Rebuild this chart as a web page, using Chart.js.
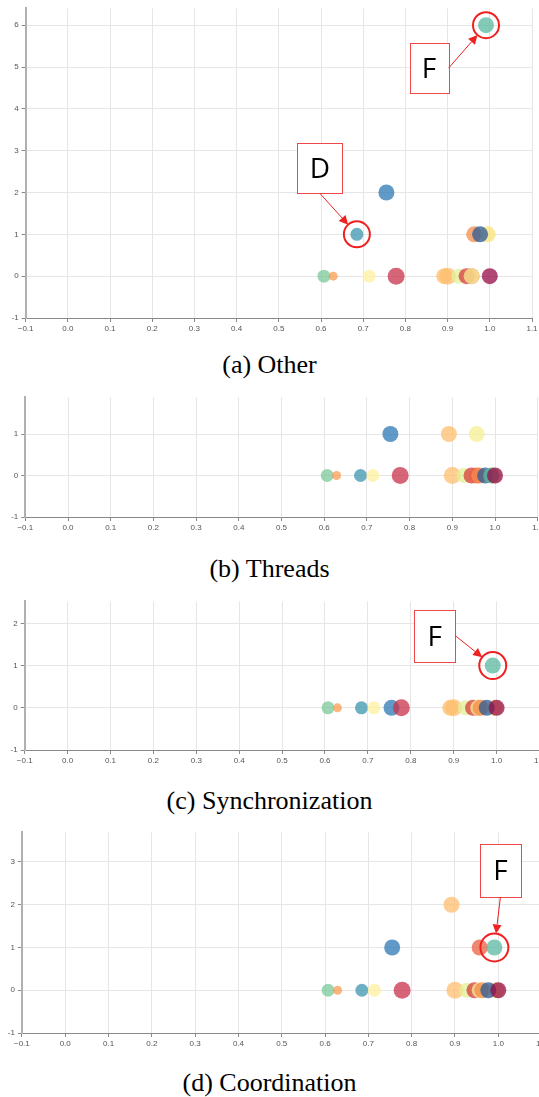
<!DOCTYPE html>
<html>
<head>
<meta charset="utf-8">
<script src="https://cdn.jsdelivr.net/npm/chart.js@4.4.0/dist/chart.umd.min.js"></script>
<style>
  html, body { margin: 0; padding: 0; background: #fff; overflow: hidden; }
  body { width: 539px; height: 1097px; position: relative; }
  .panel { position: absolute; left: 0; }
  .caption {
    position: absolute; left: 0; width: 539px; text-align: center;
    font-family: "Liberation Serif", "Times New Roman", serif;
    font-size: 26px; line-height: 26px; color: #000;
  }
</style>
</head>
<body>
<script>
// x tick labels shared by every panel
const xTicks = [-0.1, 0.0, 0.1, 0.2, 0.3, 0.4, 0.5, 0.6, 0.7, 0.8, 0.9, 1.0, 1.1];

// one entry per bubble (same x in every panel)
const itemX      = [0.607, 0.629, 0.685, 0.714, 0.755, 0.778, 0.892, 0.900, 0.927, 0.945, 0.957, 0.957, 0.963, 0.995, 0.977, 0.991, 1.000];
const itemWeight = [42,    20,    42,    42,    64,    72,    64,    72,    56,    64,    64,    64,    64,    64,    64,    64,    64];

// counts per panel
const otherCounts   = [0, 0, 1, 0, 2, 0, 0, 0, 0, 0, 0, 0, 1, 1, 1, 6, 0];
const threadsCounts = [0, 0, 0, 0, 1, 0, 1, 0, 0, 0, 0, 1, 0, 0, 0, 0, 0];
const syncCounts    = [0, 0, 0, 0, 0, 0, 0, 0, 0, 0, 0, 0, 0, 0, 0, 1, 0];
const coordCounts   = [0, 0, 0, 0, 1, 0, 2, 0, 0, 0, 1, 0, 0, 0, 0, 1, 0];

const yTicksOther   = [-1, 0, 1, 2, 3, 4, 5, 6];
const yTicksThreads = [-1, 0, 1];
const yTicksSync    = [-1, 0, 1, 2];
const yTicksCoord   = [-1, 0, 1, 2, 3];
const yMaxes = [6.4, 1.88, 2.52, 3.69];

const panelTitles = ['(a) Other', '(b) Threads', '(c) Synchronization', '(d) Coordination'];

const itemColors = [
  'rgba(116,196,146,0.7)', 'rgba(250,150,70,0.7)', 'rgba(60,150,175,0.75)', 'rgba(255,240,160,0.75)',
  'rgba(45,120,180,0.75)', 'rgba(200,50,75,0.75)', 'rgba(253,190,110,0.75)', 'rgba(253,190,110,0.75)',
  'rgba(225,240,150,0.75)', 'rgba(215,60,60,0.75)', 'rgba(235,95,65,0.75)', 'rgba(245,240,150,0.75)',
  'rgba(245,140,75,0.75)', 'rgba(250,225,120,0.75)', 'rgba(40,90,150,0.75)', 'rgba(90,185,160,0.75)',
  'rgba(150,10,70,0.75)'
];

// plot area of each panel on the page
const frames = [
  { left: 25.6, right: 532,   top: 6,     bottom: 317.7,  caption: 365 },
  { left: 25.3, right: 537.7, top: 395,   bottom: 517.3,  caption: 569 },
  { left: 24.7, right: 539.5, top: 599.3, bottom: 750.7,  caption: 801 },
  { left: 21.9, right: 541.6, top: 830,   bottom: 1033.3, caption: 1083 }
];

const tickFont = { family: '"Liberation Sans", Arial, sans-serif', size: 8 };

function fmtX(v) {
  return v < 0 ? '\u2212' + Math.abs(v).toFixed(1) : v.toFixed(1);
}

// red boxed letter + arrow + ring around one bubble
function calloutPlugin(counts, notes) {
  return {
    id: 'callouts',
    afterDatasetsDraw(chart) {
      const ctx = chart.ctx;
      notes.forEach(n => {
        const px = chart.scales.x.getPixelForValue(itemX[n.item]);
        const py = chart.scales.y.getPixelForValue(counts[n.item]);
        const bx = px + n.dx - n.w / 2, by = py + n.dy - n.h / 2;
        ctx.save();
        ctx.fillStyle = '#fff';
        ctx.fillRect(bx, by, n.w, n.h);
        ctx.strokeStyle = '#f04848';
        ctx.lineWidth = 1;
        ctx.strokeRect(Math.round(bx) + 0.5, Math.round(by) + 0.5, Math.round(n.w), Math.round(n.h));
        ctx.fillStyle = '#000';
        ctx.font = '28px "Open Sans", sans-serif';
        ctx.textAlign = 'center';
        ctx.textBaseline = 'alphabetic';
        ctx.fillText(n.label, bx + n.w / 2, by + n.h / 2 + 10);

        let sx, sy;
        if (n.from === 'bottom') { sx = bx + n.w / 2; sy = by + n.h; }
        else { sx = bx + n.w; sy = by + n.h / 2; }
        const ang = Math.atan2(py - sy, px - sx);
        const ex = px - Math.cos(ang) * n.ring, ey = py - Math.sin(ang) * n.ring;
        const head = 9, half = 4.5;
        const hx = ex - Math.cos(ang) * head, hy = ey - Math.sin(ang) * head;
        ctx.strokeStyle = '#ee2020';
        ctx.lineWidth = 1;
        ctx.beginPath(); ctx.moveTo(sx, sy); ctx.lineTo(hx, hy); ctx.stroke();
        ctx.fillStyle = '#ee2020';
        ctx.beginPath();
        ctx.moveTo(ex, ey);
        ctx.lineTo(hx - Math.sin(ang) * half, hy + Math.cos(ang) * half);
        ctx.lineTo(hx + Math.sin(ang) * half, hy - Math.cos(ang) * half);
        ctx.closePath(); ctx.fill();

        ctx.lineWidth = 2;
        ctx.beginPath(); ctx.arc(px, py, n.ring, 0, Math.PI * 2); ctx.stroke();
        ctx.restore();
      });
    }
  };
}

function drawPanel(idx, counts, yTicks, notes) {
  const f = frames[idx];
  const W = 560, padTop = 6, xAxisH = 24;
  const H = Math.round((f.bottom - f.top) + padTop + xAxisH);
  const div = document.createElement('div');
  div.className = 'panel';
  div.style.top = (f.top - padTop) + 'px';
  div.style.width = W + 'px';
  div.style.height = H + 'px';
  const cv = document.createElement('canvas');
  cv.width = W; cv.height = H;
  div.appendChild(cv);
  document.body.appendChild(div);

  const cap = document.createElement('div');
  cap.className = 'caption';
  cap.style.top = (f.caption - 13) + 'px';
  cap.textContent = panelTitles[idx];
  document.body.appendChild(cap);

  new Chart(cv, {
    type: 'bubble',
    data: {
      datasets: [{
        data: itemX.map((x, i) => ({ x: x, y: counts[i], r: Math.sqrt(itemWeight[i]) })),
        backgroundColor: itemColors,
        borderWidth: 0,
        hoverBorderWidth: 0
      }]
    },
    options: {
      responsive: false,
      animation: false,
      events: [],
      layout: { padding: { top: padTop, right: W - f.right, left: 0, bottom: 0 } },
      plugins: { legend: { display: false }, tooltip: { enabled: false } },
      scales: {
        x: {
          type: 'linear', min: -0.1, max: 1.1,
          afterBuildTicks: s => { s.ticks = xTicks.map(v => ({ value: v })); },
          afterFit: s => { s.height = xAxisH; },
          ticks: { callback: v => fmtX(v), font: tickFont, color: '#555', padding: 2, maxRotation: 0, autoSkip: false },
          grid: { color: '#e6e6e6', tickColor: '#888', tickLength: 4 },
          border: { color: '#888', width: 1 }
        },
        y: {
          type: 'linear', min: -1, max: yMaxes[idx],
          afterBuildTicks: s => { s.ticks = yTicks.map(v => ({ value: v })); },
          afterFit: s => { s.width = f.left; },
          ticks: { callback: v => String(v), font: tickFont, color: '#555', padding: 3 },
          grid: { color: '#e6e6e6', tickColor: '#888', tickLength: 4 },
          border: { color: '#b0b0b0', width: 2 }
        }
      }
    },
    plugins: [calloutPlugin(counts, notes)]
  });
}

drawPanel(0, otherCounts, yTicksOther, [
  { label: 'D', item: 2,  dx: -37, dy: -66, w: 45, h: 50, from: 'bottom', ring: 13 },
  { label: 'F', item: 15, dx: -57, dy: 43,  w: 39, h: 50, from: 'right',  ring: 13 }
]);
drawPanel(1, threadsCounts, yTicksThreads, []);
drawPanel(2, syncCounts, yTicksSync, [
  { label: 'F', item: 15, dx: -58, dy: -30, w: 41, h: 52, from: 'right', ring: 13.5 }
]);
drawPanel(3, coordCounts, yTicksCoord, [
  { label: 'F', item: 15, dx: 6, dy: -77, w: 41, h: 53, from: 'bottom', ring: 14 }
]);
</script>
</body>
</html>
